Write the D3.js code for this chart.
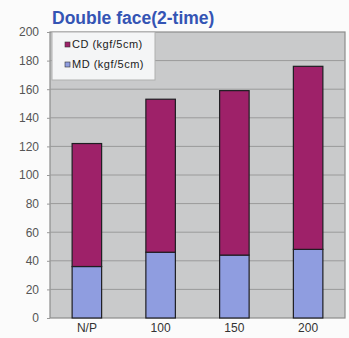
<!DOCTYPE html>
<html>
<head>
<meta charset="utf-8">
<script src="https://cdn.jsdelivr.net/npm/d3@7"></script>
<style>
  body { margin: 0; background: #fbfbfb; }
  svg { display: block; font-family: "Liberation Sans", Arial, sans-serif; }
</style>
</head>
<body>
<div id="chart"></div>
<script>
// 数据
const categories = ['N/P', '100', '150', '200'];
const mdValues = [36, 46, 44, 48];
const cdValues = [86, 107, 115, 128];   // 叠加在 MD 上面
const yTicks = [0, 20, 40, 60, 80, 100, 120, 140, 160, 180, 200];
const seriesNames = ['CD (kgf/5cm)', 'MD (kgf/5cm)'];

const width = 349, height = 338;
const margin = { top: 32, right: 4, bottom: 20, left: 50 };

const colors = { CD: '#9e2169', MD: '#8f9de0' };

const svg = d3.select('#chart')
    .append('svg')
    .attr('width', width)
    .attr('height', height);

const x = d3.scaleBand()
    .domain(categories)
    .range([margin.left, width - margin.right])
    .paddingInner(0.6)
    .paddingOuter(0.3);

const y = d3.scaleLinear()
    .domain([0, 200])
    .range([height - margin.bottom, margin.top]);

// 绘图区背景
svg.append('rect')
    .attr('x', margin.left)
    .attr('y', margin.top)
    .attr('width', width - margin.left - margin.right)
    .attr('height', height - margin.top - margin.bottom)
    .attr('fill', '#c9cacb')
    .attr('stroke', '#8c8c8c')
    .attr('stroke-width', 1.2);

// 网格线
svg.append('g')
    .selectAll('line')
    .data(yTicks.filter(d => d > 0 && d < 200))
    .enter().append('line')
    .attr('x1', margin.left)
    .attr('x2', width - margin.right)
    .attr('y1', d => y(d))
    .attr('y2', d => y(d))
    .attr('stroke', '#9a9a9a')
    .attr('stroke-width', 1);

// y 轴
const yAxis = svg.append('g')
    .attr('transform', `translate(${margin.left},0)`)
    .call(d3.axisLeft(y).tickValues(yTicks).tickSize(3).tickPadding(8));
yAxis.select('.domain').remove();
yAxis.selectAll('line').attr('stroke', '#999');
yAxis.selectAll('text')
    .attr('fill', '#555')
    .style('font-size', '12px');

// x 轴
const xAxis = svg.append('g')
    .attr('transform', `translate(0,${height - margin.bottom})`)
    .call(d3.axisBottom(x).tickSize(0).tickPadding(5));
xAxis.select('.domain').remove();
xAxis.selectAll('text')
    .attr('fill', '#333')
    .style('font-size', '12px');

// 堆叠柱
const rows = categories.map((c, i) => ({ cat: c, MD: mdValues[i], CD: cdValues[i] }));
const stacked = d3.stack().keys(['MD', 'CD'])(rows);

svg.append('g')
    .selectAll('g')
    .data(stacked)
    .enter().append('g')
    .attr('fill', d => colors[d.key])
    .selectAll('rect')
    .data(d => d)
    .enter().append('rect')
    .attr('x', d => x(d.data.cat))
    .attr('width', x.bandwidth())
    .attr('y', d => y(d[1]))
    .attr('height', d => y(d[0]) - y(d[1]))
    .attr('stroke', '#1e1e22')
    .attr('stroke-width', 1.2);

// 图例
const legend = svg.append('g').attr('transform', 'translate(52,32)');
legend.append('rect')
    .attr('width', 103)
    .attr('height', 48)
    .attr('fill', '#f4f5f6')
    .attr('stroke', '#b0b0b0');

const item = legend.selectAll('.item')
    .data(seriesNames)
    .enter().append('g')
    .attr('transform', (d, i) => `translate(13,${16 + i * 20})`);
item.append('rect')
    .attr('y', -6)
    .attr('width', 5)
    .attr('height', 5)
    .attr('fill', (d, i) => i === 0 ? colors.CD : colors.MD)
    .attr('stroke', '#333')
    .attr('stroke-width', 0.6);
item.append('text')
    .attr('x', 7)
    .attr('y', 0)
    .attr('fill', '#222')
    .style('font-size', '11px')
    .style('letter-spacing', '0.5px')
    .text(d => d);

// 标题
svg.append('text')
    .attr('x', 52)
    .attr('y', 24)
    .attr('fill', '#3454b4')
    .style('font-size', '17.5px')
    .style('font-weight', 'bold')
    .text('Double face(2-time)');
</script>
</body>
</html>
